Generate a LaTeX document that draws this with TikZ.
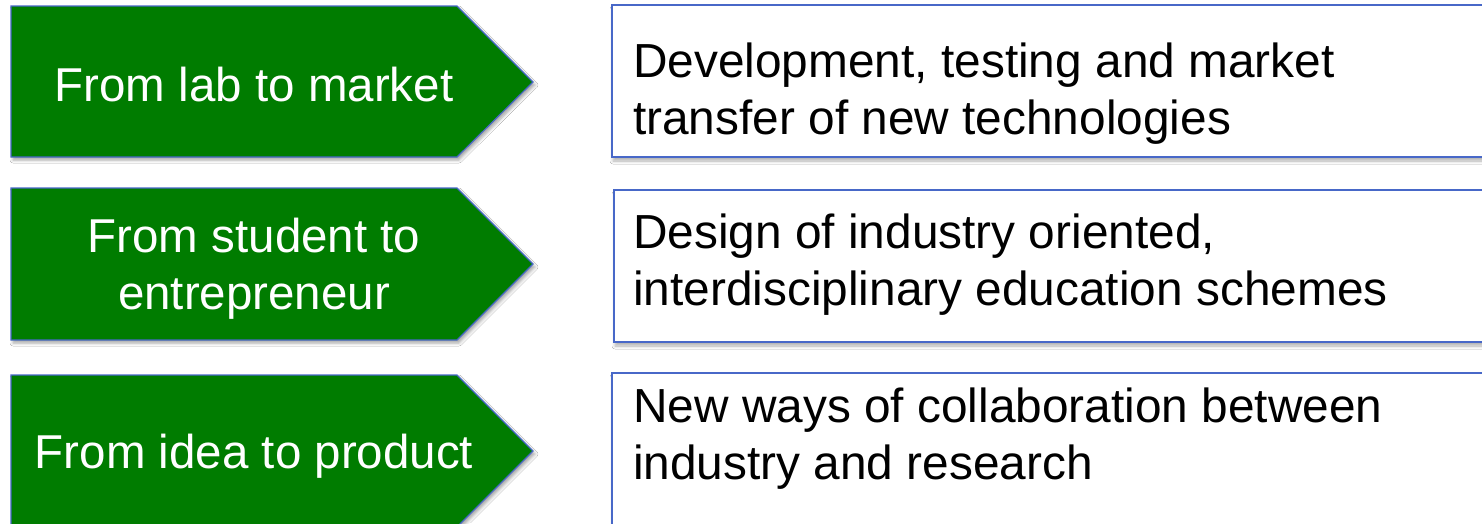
\documentclass[tikz,border=0pt]{standalone}
\usepackage{fontspec}
\setmainfont{Liberation Sans}
\usetikzlibrary{shadows.blur}
\definecolor{arrgreen}{RGB}{0,124,0}
\definecolor{edgeblue}{RGB}{72,104,200}
\tikzset{
  arrowshape/.style={fill=arrgreen, draw=edgeblue, line width=1.2pt, line join=miter,
    blur shadow={shadow xshift=2pt, shadow yshift=-3pt, shadow blur radius=3pt, shadow opacity=35}},
  infobox/.style={fill=white, draw=edgeblue, line width=1.6pt,
    blur shadow={shadow xshift=1pt, shadow yshift=-4pt, shadow blur radius=3pt, shadow opacity=30}},
  lefttext/.style={anchor=base, inner sep=0pt, text=white, font=\fontsize{47.5}{57}\selectfont},
  righttext/.style={anchor=base west, inner sep=0pt, text=black, font=\fontsize{47.8}{57}\selectfont},
}
\begin{document}
\begin{tikzpicture}[x=1pt,y=-1pt]
\useasboundingbox (0,0) rectangle (1482,523);
\clip (0,0) rectangle (1482,523);
\fill[white] (0,0) rectangle (1482,523);
% arrows
\draw[arrowshape] (11,6) -- (457,6) -- (533,82) -- (457,157) -- (11,157) -- cycle;
\draw[arrowshape] (11,188) -- (457,188) -- (533,264) -- (457,340) -- (11,340) -- cycle;
\draw[arrowshape] (11,375) -- (457,375) -- (533,451) -- (457,527) -- (11,527) -- cycle;
% boxes
\draw[infobox] (612,5) rectangle (1500,157);
\draw[infobox] (614,190) rectangle (1500,342);
\draw[infobox] (612,373) rectangle (1500,540);
% left texts
\node[lefttext] (l1) at (254,101) {From lab to market};
\node[lefttext] (l2) at (254,252) {\begin{tabular}[t]{@{}c@{}}From student to\\entrepreneur\end{tabular}};
\node[lefttext] (l3) at (254,468) {From idea to product};
% right texts
\node[righttext] (r1) at (633,77) {\begin{tabular}[t]{@{}l@{}}Development, testing and market\\transfer of new technologies\end{tabular}};
\node[righttext] (r2) at (633,248) {\begin{tabular}[t]{@{}l@{}}Design of industry oriented,\\interdisciplinary education schemes\end{tabular}};
\node[righttext] (r3) at (633,422) {\begin{tabular}[t]{@{}l@{}}New ways of collaboration between\\industry and research\end{tabular}};
\end{tikzpicture}
\end{document}
